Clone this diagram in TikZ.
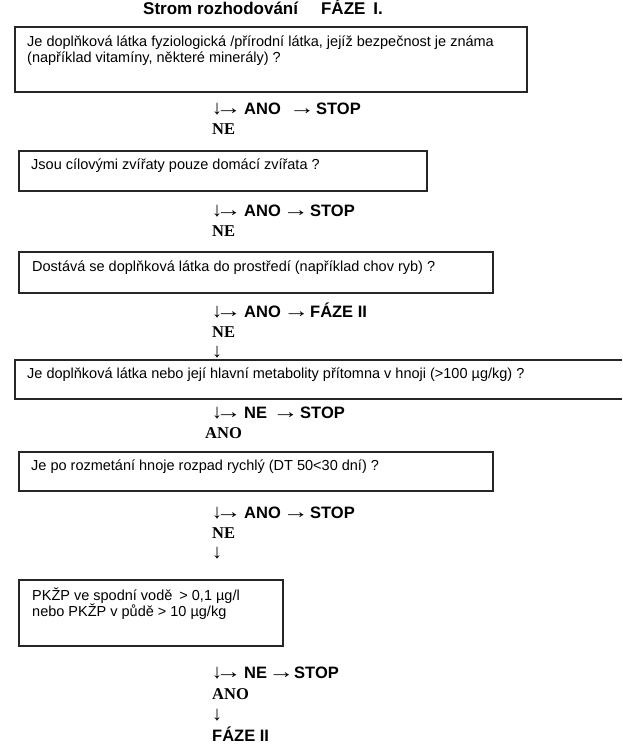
\documentclass[tikz,border=0pt]{standalone}
\usepackage{fontspec}
\usepackage{graphicx}
\setmainfont{Liberation Sans}
\newfontfamily\seriffam{Liberation Serif}
\newcommand\arr[1]{{\seriffam\mdseries\fontsize{20}{20}\selectfont #1}}
\newcommand\rarr{\scalebox{1.3}[1]{\arr{→}}}
\newcommand\nes[1]{{\seriffam\bfseries #1}}
\newcommand\leadarr{\makebox[32pt][l]{\arr{↓}\hspace{-6.5pt}\rarr}}
\newcommand\midarr[2]{\hspace{#1}\makebox[#2][l]{\rarr}}
\begin{document}
\begin{tikzpicture}[x=1pt,y=-1pt,
  boxline/.style={draw=black!85, line width=1.1pt},
  body/.style={anchor=base west, inner sep=0pt, font=\fontsize{14.5}{16}\selectfont},
  flow/.style={anchor=base west, inner sep=0pt, font=\fontsize{16.5}{20}\selectfont\bfseries},
  titlefont/.style={anchor=base west, inner sep=0pt, font=\fontsize{17}{20}\selectfont\bfseries}]
\useasboundingbox (0,0) rectangle (622,749);
\fill[white] (0,0) rectangle (622,749);
% title
\node[titlefont] (title) at (143,15) {Strom rozhodování\hspace{23pt}FÁZE\hspace{8pt}I.};
% box 1
\draw[boxline] (15,27) rectangle (527,92);
\node[body] (t1a) at (27,47) {Je doplňková látka fyziologická /přírodní látka, jejíž bezpečnost je známa};
\node[body] (t1b) at (27,63) {(například vitamíny, některé minerály) ?};
\node[flow] (f1) at (212,114) {\leadarr ANO\midarr{8.3pt}{27pt}STOP};
\node[flow] (n1) at (212,135) {\nes{NE}};
% box 2
\draw[boxline] (19,151) rectangle (427,191);
\node[body] (t2) at (31,169) {Jsou cílovými zvířaty pouze domácí zvířata ?};
\node[flow] (f2) at (212,216) {\leadarr ANO\midarr{2pt}{27.3pt}STOP};
\node[flow] (n2) at (212,236) {\nes{NE}};
% box 3
\draw[boxline] (19,252) rectangle (493,293);
\node[body] (t3) at (32,271) {Dostává se doplňková látka do prostředí (například chov ryb) ?};
\node[flow] (f3) at (212,317) {\leadarr ANO\midarr{2.5pt}{26.8pt}FÁZE II};
\node[flow] (n3) at (212,337) {\nes{NE}};
\node[flow] (d3) at (212,357) {\arr{↓}};
% box 4
\draw[boxline] (622,360) -- (15,360) -- (15,399) -- (622,399);
\node[body] (t4) at (27,378) {Je doplňková látka nebo její hlavní metabolity přítomna v hnoji (>100 µg/kg) ?};
\node[flow] (f4) at (212,418) {\leadarr NE\midarr{5.6pt}{27.5pt}STOP};
\node[flow] (n4) at (205,438) {\nes{ANO}};
% box 5
\draw[boxline] (19,452) rectangle (493,491);
\node[body] (t5) at (31,470) {Je po rozmetání hnoje rozpad rychlý (DT 50<30 dní) ?};
\node[flow] (f5) at (212,518) {\leadarr ANO\midarr{2pt}{27.3pt}STOP};
\node[flow] (n5) at (212,538) {\nes{NE}};
\node[flow] (d5) at (212,558) {\arr{↓}};
% box 6
\draw[boxline] (19,580) rectangle (283,646);
\node[body] (t6a) at (32,600) {PKŽP ve spodní vodě\hspace{7pt}> 0,1 µg/l};
\node[body] (t6b) at (32,616) {nebo PKŽP v půdě > 10 µg/kg};
\node[flow] (f6) at (212,678) {\leadarr NE\midarr{1.2pt}{25.9pt}STOP};
\node[flow] (n6) at (212,699) {\nes{ANO}};
\node[flow] (d6) at (212,720) {\arr{↓}};
\node[flow] (end) at (212,741) {FÁZE II};
\end{tikzpicture}
\end{document}
